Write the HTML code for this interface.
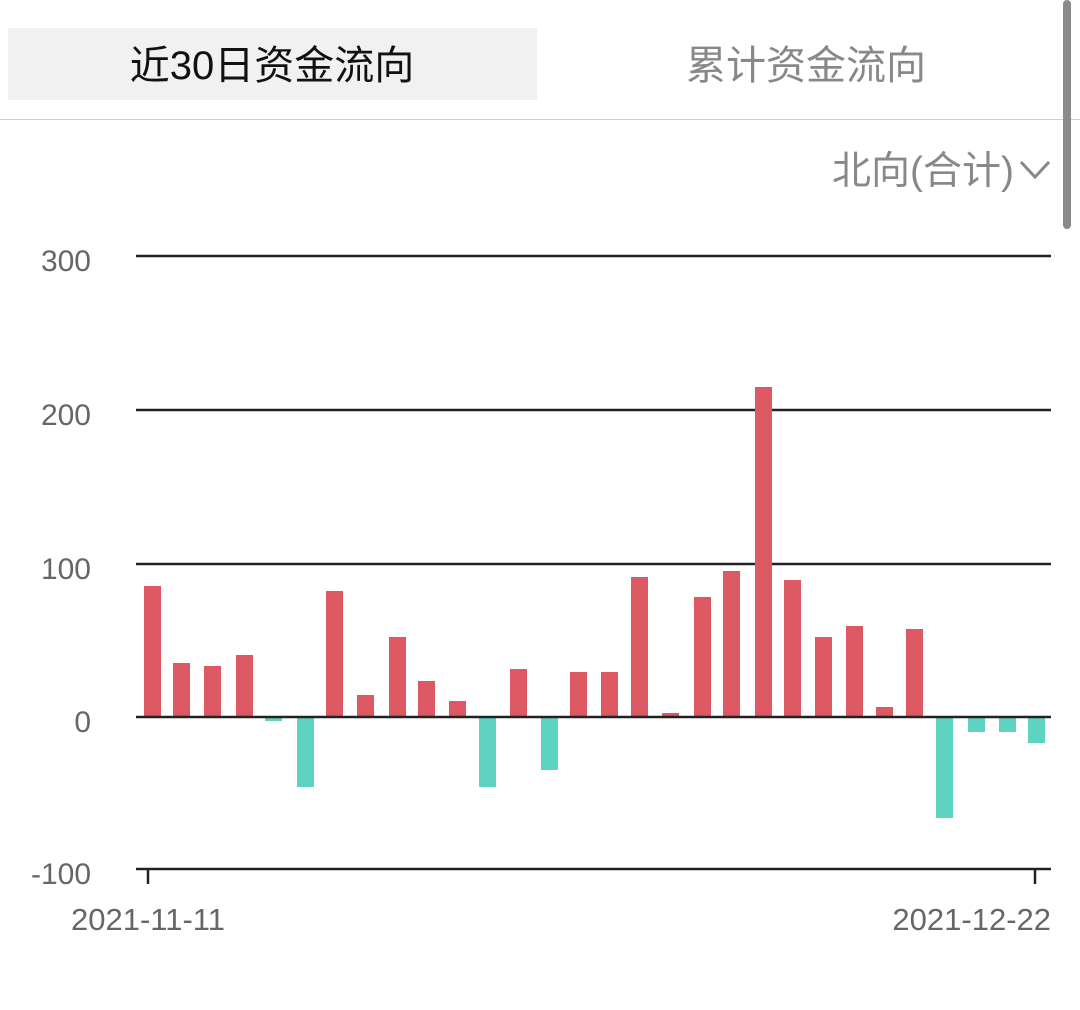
<!DOCTYPE html>
<html><head><meta charset="utf-8"><style>
html,body{margin:0;padding:0;background:#fff;width:1080px;height:1010px;overflow:hidden}
</style></head><body>
<svg width="1080" height="1010" xmlns="http://www.w3.org/2000/svg" font-family="Liberation Sans, Noto Sans CJK SC, sans-serif">
<rect x="8" y="28" width="529" height="72" fill="#f1f1f1"/>
<text x="272" y="79" font-size="40" text-anchor="middle" fill="#111">近30日资金流向</text>
<text x="806" y="79" font-size="40" text-anchor="middle" fill="#888">累计资金流向</text>
<rect x="0" y="119" width="1080" height="1" fill="#d0d0d0"/>
<rect x="1063" y="0" width="8" height="229" rx="4" fill="#8a8a8a"/>
<text x="1014" y="184" font-size="39" text-anchor="end" fill="#888">北向(合计)</text>
<polyline points="1021,162 1035,177 1049,162" fill="none" stroke="#888" stroke-width="3"/>
<g stroke="#222" stroke-width="2.5">
<line x1="136" y1="256" x2="1051" y2="256"/>
<line x1="136" y1="410" x2="1051" y2="410"/>
<line x1="136" y1="564" x2="1051" y2="564"/>
<line x1="136" y1="869" x2="1051" y2="869"/>
<line x1="148" y1="869" x2="148" y2="884"/>
<line x1="1035" y1="869" x2="1035" y2="884"/>
</g>
<g font-size="30" fill="#666" text-anchor="end">
<text x="91" y="271">300</text>
<text x="91" y="425">200</text>
<text x="91" y="579">100</text>
<text x="91" y="732">0</text>
<text x="91" y="884">-100</text>
</g>
<text x="148" y="930" font-size="31" fill="#666" text-anchor="middle">2021-11-11</text>
<text x="1051" y="930" font-size="31" fill="#666" text-anchor="end">2021-12-22</text>
<g fill="#dc5862">
<rect x="144" y="586" width="17" height="131"/>
<rect x="173" y="663" width="17" height="54"/>
<rect x="204" y="666" width="17" height="51"/>
<rect x="236" y="655" width="17" height="62"/>
<rect x="326" y="591" width="17" height="126"/>
<rect x="357" y="695" width="17" height="22"/>
<rect x="389" y="637" width="17" height="80"/>
<rect x="418" y="681" width="17" height="36"/>
<rect x="449" y="701" width="17" height="16"/>
<rect x="510" y="669" width="17" height="48"/>
<rect x="570" y="672" width="17" height="45"/>
<rect x="601" y="672" width="17" height="45"/>
<rect x="631" y="577" width="17" height="140"/>
<rect x="662" y="713" width="17" height="4"/>
<rect x="694" y="597" width="17" height="120"/>
<rect x="723" y="571" width="17" height="146"/>
<rect x="755" y="387" width="17" height="330"/>
<rect x="784" y="580" width="17" height="137"/>
<rect x="815" y="637" width="17" height="80"/>
<rect x="846" y="626" width="17" height="91"/>
<rect x="876" y="707" width="17" height="10"/>
<rect x="906" y="629" width="17" height="88"/>
</g>
<g fill="#5ed3c1">
<rect x="265" y="717" width="17" height="4"/>
<rect x="297" y="717" width="17" height="70"/>
<rect x="479" y="717" width="17" height="70"/>
<rect x="541" y="717" width="17" height="53"/>
<rect x="936" y="717" width="17" height="101"/>
<rect x="968" y="717" width="17" height="15"/>
<rect x="999" y="717" width="17" height="15"/>
<rect x="1028" y="717" width="17" height="26"/>
</g>
<line x1="136" y1="717" x2="1051" y2="717" stroke="#222" stroke-width="2.5"/>
</svg>
</body></html>
